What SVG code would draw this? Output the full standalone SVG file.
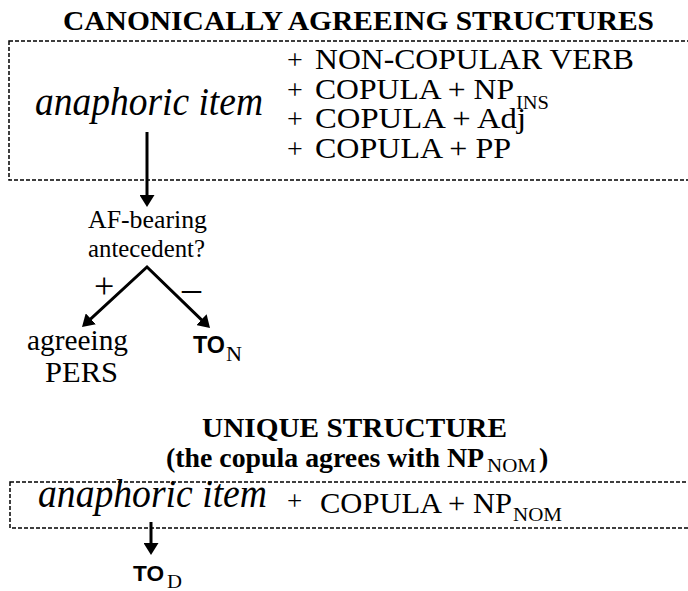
<svg xmlns="http://www.w3.org/2000/svg" width="688" height="591" viewBox="0 0 688 591">
<style>
.t{font-family:'Liberation Serif',Tinos,'Times New Roman',Times,serif;fill:#000}
.b{font-weight:bold}
.i{font-style:italic}
.s{font-family:'Liberation Sans',Arimo,Arial,Helvetica,sans-serif;font-weight:bold;fill:#000}
.box{fill:none;stroke:#000;stroke-width:1.5;stroke-dasharray:4 2}
.ln{fill:none;stroke:#000;stroke-width:3}
</style>
<defs>
<marker id="ah" viewBox="0 0 12 15" refX="6" refY="7.5" markerWidth="12" markerHeight="15" markerUnits="userSpaceOnUse" orient="auto-start-reverse">
<path d="M0,0 L12,7.5 L0,15 z" fill="#000"/>
</marker>
</defs>

<g id="title1">
<text class="t b" x="63" y="30" font-size="28" textLength="591" lengthAdjust="spacingAndGlyphs">CANONICALLY AGREEING STRUCTURES</text>
</g>

<g id="box1">
<rect class="box" x="9" y="41" width="700" height="139"/>
<text class="t i" x="35" y="115" font-size="41" textLength="228" lengthAdjust="spacingAndGlyphs">anaphoric item</text>
<text class="t" x="287" y="69" font-size="28">+</text>
<text class="t" x="315" y="69" font-size="29" textLength="319" lengthAdjust="spacingAndGlyphs">NON-COPULAR VERB</text>
<text class="t" x="287" y="99" font-size="28">+</text>
<text class="t" x="315" y="99" font-size="29" textLength="199" lengthAdjust="spacingAndGlyphs">COPULA + NP</text>
<text class="t" x="516" y="109" font-size="18" textLength="33" lengthAdjust="spacingAndGlyphs">INS</text>
<text class="t" x="287" y="128" font-size="28">+</text>
<text class="t" x="315" y="128" font-size="29" textLength="211" lengthAdjust="spacingAndGlyphs">COPULA + Adj</text>
<text class="t" x="287" y="158" font-size="28">+</text>
<text class="t" x="315" y="158" font-size="29" textLength="196" lengthAdjust="spacingAndGlyphs">COPULA + PP</text>
</g>

<g id="question">
<text class="t" x="88" y="228" font-size="26" textLength="119" lengthAdjust="spacingAndGlyphs">AF-bearing</text>
<text class="t" x="88" y="257" font-size="26" textLength="117" lengthAdjust="spacingAndGlyphs">antecedent?</text>
</g>

<g id="agreeing">
<text class="t" x="27" y="350" font-size="29" textLength="101" lengthAdjust="spacingAndGlyphs">agreeing</text>
<text class="t" x="45" y="382" font-size="29" textLength="73" lengthAdjust="spacingAndGlyphs">PERS</text>
</g>

<g id="toN">
<text class="s" x="193" y="353" font-size="24" textLength="32" lengthAdjust="spacingAndGlyphs">TO</text>
<text class="t" x="226" y="361" font-size="21" textLength="16" lengthAdjust="spacingAndGlyphs">N</text>
</g>

<g id="title2">
<text class="t b" x="202" y="437" font-size="28" textLength="305" lengthAdjust="spacingAndGlyphs">UNIQUE STRUCTURE</text>
<text class="t b" x="166" y="467" font-size="28" textLength="318" lengthAdjust="spacingAndGlyphs">(the copula agrees with NP</text>
<text class="t" x="487" y="472" font-size="18" textLength="49" lengthAdjust="spacingAndGlyphs">NOM</text>
<text class="t b" x="539" y="467" font-size="28">)</text>
</g>

<g id="box2">
<rect class="box" x="10" y="482" width="700" height="46"/>
<text class="t i" x="38" y="507" font-size="41" textLength="229" lengthAdjust="spacingAndGlyphs">anaphoric item</text>
<text class="t" x="287" y="510" font-size="27">+</text>
<text class="t" x="320" y="513" font-size="29" textLength="192" lengthAdjust="spacingAndGlyphs">COPULA + NP</text>
<text class="t" x="513" y="521" font-size="18" textLength="49" lengthAdjust="spacingAndGlyphs">NOM</text>
</g>

<g id="toD">
<text class="s" x="133" y="581" font-size="22" textLength="31" lengthAdjust="spacingAndGlyphs">TO</text>
<text class="t" x="167" y="588" font-size="19" textLength="15" lengthAdjust="spacingAndGlyphs">D</text>
</g>

<g id="connectors">
<text class="t" x="94" y="298" font-size="36">+</text>
<text class="t" x="182" y="301" font-size="38">–</text>
<path class="ln" d="M147,132 L147,201" marker-end="url(#ah)"/>
<path class="ln" d="M86.4,322.9 L147,267 L205.7,323.8" stroke-linejoin="miter" marker-start="url(#ah)" marker-end="url(#ah)"/>
<path class="ln" d="M151,522 L151,549" marker-end="url(#ah)"/>
</g>
</svg>
